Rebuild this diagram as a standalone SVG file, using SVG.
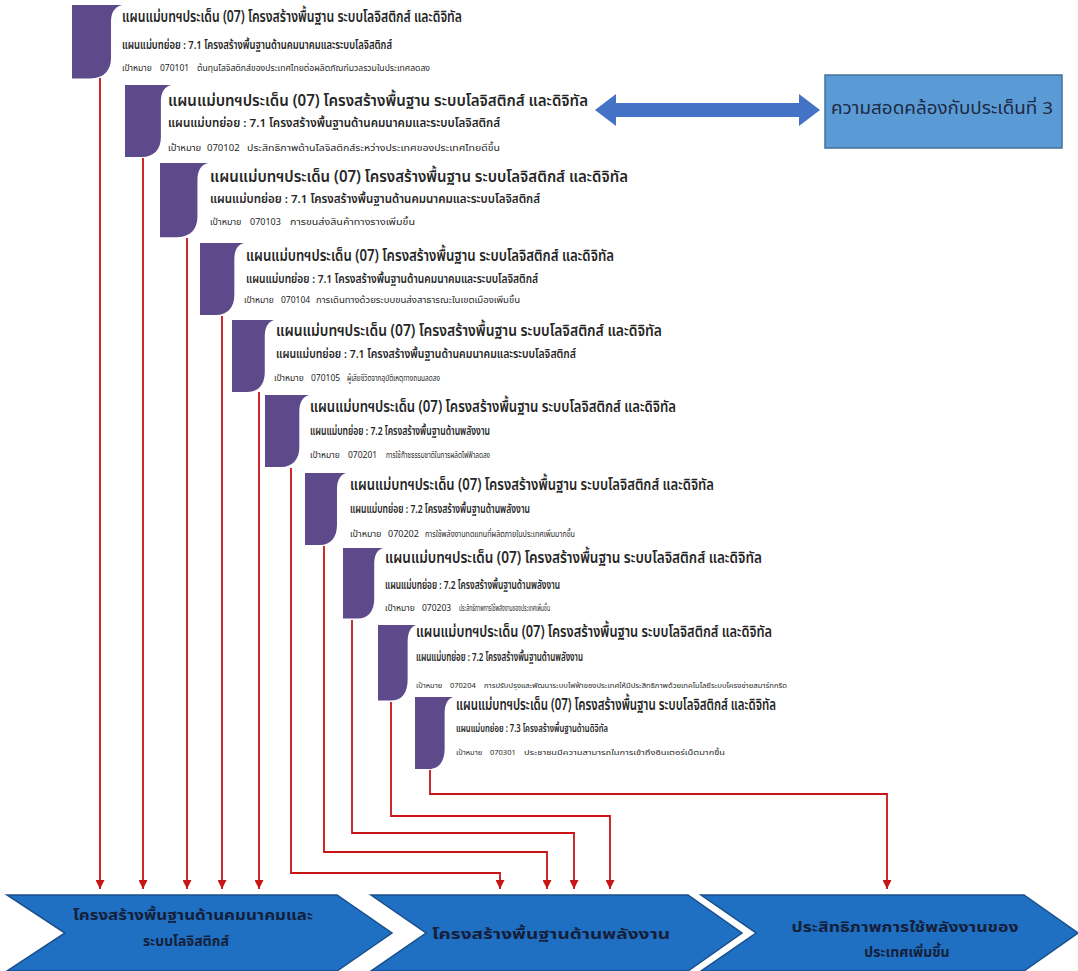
<svg xmlns="http://www.w3.org/2000/svg" width="1078" height="971" viewBox="0 0 1078 971">
<style>
.t{font-family:"Noto Sans Thai","Tahoma","Noto Sans","DejaVu Sans",sans-serif;fill:#262626}
.h{font-size:16px;font-weight:600}
.s{font-size:11.5px;font-weight:600}
.g{font-size:8.5px}
.flag{fill:#5e4a8a}
.con{fill:none;stroke:#c81414;stroke-width:1.8}
.chev{fill:#1f6fc2;stroke:#1a4f8c;stroke-width:1.5}
.ct{font-family:"Noto Sans Thai","Tahoma","Noto Sans",sans-serif;font-size:14px;font-weight:bold;fill:#14203a;text-anchor:middle}
</style>
<defs>
<path id="flag" d="M0,0 H50 C42,2 39,8 39,17 V52 C39,64 32,72 18,72 H0 Z"/>
<marker id="ah" viewBox="0 0 10 10" refX="10" refY="5" markerWidth="5" markerHeight="5" orient="auto" markerUnits="strokeWidth"><path d="M0,0 L10,5 L0,10 Z" fill="#c81414"/></marker>
</defs>
<rect width="1078" height="971" fill="#fff"/>

<g id="connectors">
<path class="con" marker-end="url(#ah)" d="M100,78 V889"/>
<path class="con" marker-end="url(#ah)" d="M143,158 V889"/>
<path class="con" marker-end="url(#ah)" d="M187,238 V889"/>
<path class="con" marker-end="url(#ah)" d="M222,316 V889"/>
<path class="con" marker-end="url(#ah)" d="M259,392 V889"/>
<path class="con" marker-end="url(#ah)" d="M291,468 V873 H500 V889"/>
<path class="con" marker-end="url(#ah)" d="M324,546 V852 H547 V889"/>
<path class="con" marker-end="url(#ah)" d="M352,620 V833 H574 V889"/>
<path class="con" marker-end="url(#ah)" d="M391,702 V816 H610 V889"/>
<path class="con" marker-end="url(#ah)" d="M430,770 V794 H887 V889"/>
</g>

<g id="n1">
<use href="#flag" class="flag" transform="translate(72,5) scale(1,1.02)"/>
<text class="t h" x="122" y="22" textLength="340" lengthAdjust="spacingAndGlyphs">แผนแม่บทฯประเด็น (07) โครงสร้างพื้นฐาน ระบบโลจิสติกส์ และดิจิทัล</text>
<text class="t s" x="122" y="49" textLength="270" lengthAdjust="spacingAndGlyphs">แผนแม่บทย่อย : 7.1 โครงสร้างพื้นฐานด้านคมนาคมและระบบโลจิสติกส์</text>
<text class="t g" y="71"><tspan x="122">เป้าหมาย</tspan><tspan x="160">070101</tspan><tspan x="197" textLength="233" lengthAdjust="spacingAndGlyphs">ต้นทุนโลจิสติกส์ของประเทศไทยต่อผลิตภัณฑ์มวลรวมในประเทศลดลง</tspan></text>
</g>

<g id="n2">
<use href="#flag" class="flag" transform="translate(125,85) scale(0.92,1)"/>
<text class="t h" x="168" y="106" textLength="420" lengthAdjust="spacingAndGlyphs">แผนแม่บทฯประเด็น (07) โครงสร้างพื้นฐาน ระบบโลจิสติกส์ และดิจิทัล</text>
<text class="t s" x="168" y="127" textLength="332" lengthAdjust="spacingAndGlyphs">แผนแม่บทย่อย : 7.1 โครงสร้างพื้นฐานด้านคมนาคมและระบบโลจิสติกส์</text>
<text class="t g" y="151" style="font-size:9.5px"><tspan x="168">เป้าหมาย</tspan><tspan x="207">070102</tspan><tspan x="247" textLength="253" lengthAdjust="spacingAndGlyphs">ประสิทธิภาพด้านโลจิสติกส์ระหว่างประเทศของประเทศไทยดีขึ้น</tspan></text>
</g>

<g id="n3">
<use href="#flag" class="flag" transform="translate(160,163) scale(0.96,1.03)"/>
<text class="t h" x="210" y="182" textLength="418" lengthAdjust="spacingAndGlyphs">แผนแม่บทฯประเด็น (07) โครงสร้างพื้นฐาน ระบบโลจิสติกส์ และดิจิทัล</text>
<text class="t s" x="210" y="203" textLength="330" lengthAdjust="spacingAndGlyphs">แผนแม่บทย่อย : 7.1 โครงสร้างพื้นฐานด้านคมนาคมและระบบโลจิสติกส์</text>
<text class="t g" y="225" style="font-size:9px"><tspan x="210">เป้าหมาย</tspan><tspan x="250">070103</tspan><tspan x="290" textLength="125" lengthAdjust="spacingAndGlyphs">การขนส่งสินค้าทางรางเพิ่มขึ้น</tspan></text>
</g>

<g id="n4">
<use href="#flag" class="flag" transform="translate(200,243) scale(0.88,1)"/>
<text class="t h" x="246" y="261" textLength="368" lengthAdjust="spacingAndGlyphs">แผนแม่บทฯประเด็น (07) โครงสร้างพื้นฐาน ระบบโลจิสติกส์ และดิจิทัล</text>
<text class="t s" x="246" y="283" textLength="292" lengthAdjust="spacingAndGlyphs">แผนแม่บทย่อย : 7.1 โครงสร้างพื้นฐานด้านคมนาคมและระบบโลจิสติกส์</text>
<text class="t g" y="303"><tspan x="244">เป้าหมาย</tspan><tspan x="281">070104</tspan><tspan x="316" textLength="204" lengthAdjust="spacingAndGlyphs">การเดินทางด้วยระบบขนส่งสาธารณะในเขตเมืองเพิ่มขึ้น</tspan></text>
</g>

<g id="n5">
<use href="#flag" class="flag" transform="translate(232,320) scale(0.84,1)"/>
<text class="t h" x="276" y="336" textLength="386" lengthAdjust="spacingAndGlyphs">แผนแม่บทฯประเด็น (07) โครงสร้างพื้นฐาน ระบบโลจิสติกส์ และดิจิทัล</text>
<text class="t s" x="276" y="358" textLength="300" lengthAdjust="spacingAndGlyphs">แผนแม่บทย่อย : 7.1 โครงสร้างพื้นฐานด้านคมนาคมและระบบโลจิสติกส์</text>
<text class="t g" y="381"><tspan x="274">เป้าหมาย</tspan><tspan x="311">070105</tspan><tspan x="347" textLength="93" lengthAdjust="spacingAndGlyphs">ผู้เสียชีวิตจากอุบัติเหตุทางถนนลดลง</tspan></text>
</g>

<g id="n6">
<use href="#flag" class="flag" transform="translate(265,395) scale(0.88,1)"/>
<text class="t h" x="310" y="412" textLength="366" lengthAdjust="spacingAndGlyphs">แผนแม่บทฯประเด็น (07) โครงสร้างพื้นฐาน ระบบโลจิสติกส์ และดิจิทัล</text>
<text class="t s" x="310" y="435" textLength="180" lengthAdjust="spacingAndGlyphs">แผนแม่บทย่อย : 7.2 โครงสร้างพื้นฐานด้านพลังงาน</text>
<text class="t g" y="458"><tspan x="310">เป้าหมาย</tspan><tspan x="348">070201</tspan><tspan x="386" textLength="104" lengthAdjust="spacingAndGlyphs">การใช้ก๊าซธรรมชาติในการผลิตไฟฟ้าลดลง</tspan></text>
</g>

<g id="n7">
<use href="#flag" class="flag" transform="translate(305,473) scale(0.82,1)"/>
<text class="t h" x="350" y="490" textLength="364" lengthAdjust="spacingAndGlyphs">แผนแม่บทฯประเด็น (07) โครงสร้างพื้นฐาน ระบบโลจิสติกส์ และดิจิทัล</text>
<text class="t s" x="350" y="513" textLength="180" lengthAdjust="spacingAndGlyphs">แผนแม่บทย่อย : 7.2 โครงสร้างพื้นฐานด้านพลังงาน</text>
<text class="t g" y="537" style="font-size:9px"><tspan x="350">เป้าหมาย</tspan><tspan x="388">070202</tspan><tspan x="425" textLength="150" lengthAdjust="spacingAndGlyphs">การใช้พลังงานทดแทนที่ผลิตภายในประเทศเพิ่มมากขึ้น</tspan></text>
</g>

<g id="n8">
<use href="#flag" class="flag" transform="translate(343,548) scale(0.8,0.98)"/>
<text class="t h" x="385" y="563" textLength="377" lengthAdjust="spacingAndGlyphs">แผนแม่บทฯประเด็น (07) โครงสร้างพื้นฐาน ระบบโลจิสติกส์ และดิจิทัล</text>
<text class="t s" x="385" y="589" textLength="175" lengthAdjust="spacingAndGlyphs">แผนแม่บทย่อย : 7.2 โครงสร้างพื้นฐานด้านพลังงาน</text>
<text class="t g" y="611"><tspan x="385">เป้าหมาย</tspan><tspan x="422">070203</tspan><tspan x="459" textLength="91" lengthAdjust="spacingAndGlyphs">ประสิทธิภาพการใช้พลังงานของประเทศเพิ่มขึ้น</tspan></text>
</g>

<g id="n9">
<use href="#flag" class="flag" transform="translate(378,625) scale(0.76,1.05)"/>
<text class="t h" x="416" y="637" textLength="356" lengthAdjust="spacingAndGlyphs">แผนแม่บทฯประเด็น (07) โครงสร้างพื้นฐาน ระบบโลจิสติกส์ และดิจิทัล</text>
<text class="t s" x="416" y="661" textLength="167" lengthAdjust="spacingAndGlyphs">แผนแม่บทย่อย : 7.2 โครงสร้างพื้นฐานด้านพลังงาน</text>
<text class="t g" y="688" style="font-size:7.5px"><tspan x="416">เป้าหมาย</tspan><tspan x="450">070204</tspan><tspan x="484" textLength="303" lengthAdjust="spacingAndGlyphs">การปรับปรุงและพัฒนาระบบไฟฟ้าของประเทศให้มีประสิทธิภาพด้วยเทคโนโลยีระบบโครงข่ายสมาร์ทกริด</tspan></text>
</g>

<g id="n10">
<use href="#flag" class="flag" transform="translate(415,697) scale(0.76,1)"/>
<text class="t h" x="456" y="710" textLength="320" lengthAdjust="spacingAndGlyphs">แผนแม่บทฯประเด็น (07) โครงสร้างพื้นฐาน ระบบโลจิสติกส์ และดิจิทัล</text>
<text class="t s" x="456" y="732" textLength="152" lengthAdjust="spacingAndGlyphs" style="font-size:10.5px">แผนแม่บทย่อย : 7.3 โครงสร้างพื้นฐานด้านดิจิทัล</text>
<text class="t g" y="755" style="font-size:7.5px"><tspan x="456">เป้าหมาย</tspan><tspan x="490">070301</tspan><tspan x="524" textLength="201" lengthAdjust="spacingAndGlyphs">ประชาชนมีความสามารถในการเข้าถึงอินเตอร์เน็ตมากขึ้น</tspan></text>
</g>

<g id="link">
<polygon points="595,110 616,94 616,103 799,103 799,94 820,110 799,126 799,117 616,117 616,126" fill="#4472c4"/>
</g>

<g id="issue3">
<rect x="825" y="75" width="237" height="73" fill="#5b9bd5" stroke="#41719c" stroke-width="1.5"/>
<text class="t" x="831" y="114" style="font-size:17px;fill:#1c2a44" textLength="222" lengthAdjust="spacingAndGlyphs">ความสอดคล้องกับประเด็นที่ 3</text>
</g>

<g id="c1">
<polygon class="chev" points="7,895 337,895 392,933 337,971 7,971 65,933"/>
<text class="ct" x="193" y="920" textLength="240" lengthAdjust="spacingAndGlyphs">โครงสร้างพื้นฐานด้านคมนาคมและ</text>
<text class="ct" x="186" y="946">ระบบโลจิสติกส์</text>
</g>
<g id="c2">
<polygon class="chev" points="371,895 688,895 742,933 688,971 371,971 426,933"/>
<text class="ct" x="551" y="939" textLength="238" lengthAdjust="spacingAndGlyphs">โครงสร้างพื้นฐานด้านพลังงาน</text>
</g>
<g id="c3">
<polygon class="chev" points="701,895 1024,895 1078,933 1024,971 701,971 756,933"/>
<text class="ct" x="905" y="932" textLength="227" lengthAdjust="spacingAndGlyphs">ประสิทธิภาพการใช้พลังงานของ</text>
<text class="ct" x="907" y="957">ประเทศเพิ่มขึ้น</text>
</g>
</svg>
